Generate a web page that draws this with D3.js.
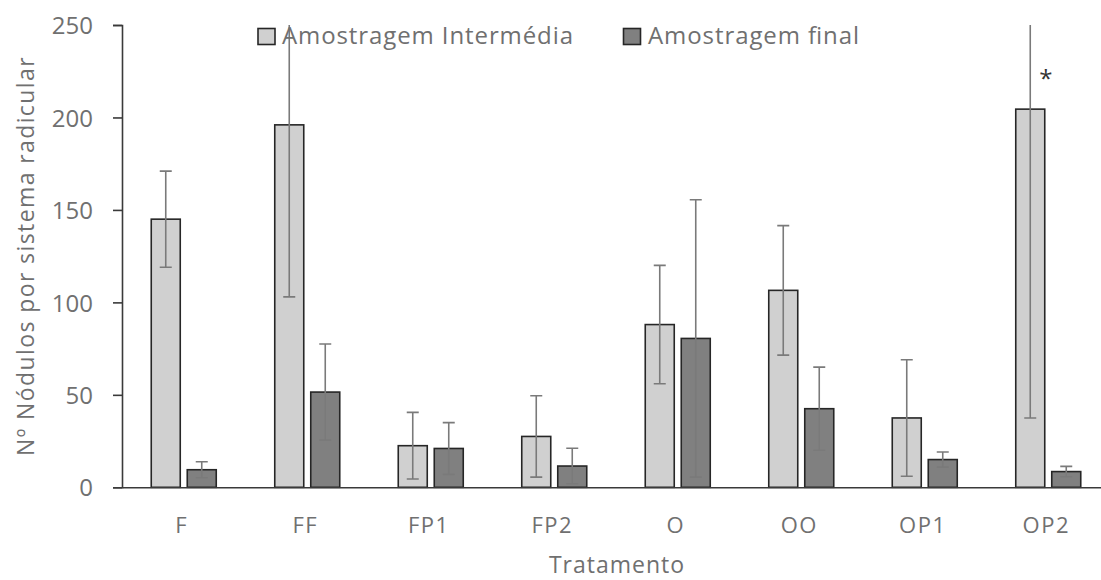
<!DOCTYPE html>
<html><head><meta charset="utf-8">
<script src="https://cdn.jsdelivr.net/npm/d3@7"></script>
<style>
body{margin:0;background:#fff;}
text{font-family:"Open Sans",sans-serif;}
</style></head>
<body>
<svg id="chart" width="1101" height="580"></svg>
<script>
const categories = ["F","FF","FP1","FP2","O","OO","OP1","OP2"];
const seriesNames = ["Amostragem Intermédia","Amostragem final"];
const intermedia = [145, 196, 22.5, 27.5, 88, 106.5, 37.5, 204.5];
const intermediaErr = [26, 93, 18, 22, 32, 35, 31.5, 167];
const finalVals = [9.5, 51.5, 21, 11.5, 80.5, 42.5, 15, 8.5];
const finalErr = [4.3, 26, 14, 9.6, 75, 22.5, 4.1, 2.8];
const yTicks = [0, 50, 100, 150, 200, 250];
const markers = [{cat:"OP2", series:0, label:"*"}];

(function(){
const colors = ["#d0d0d0", "#808080"];
const svg = d3.select("#chart");
const pLeft = 122, pTop = 25, pBottom = 487.3;

const x = d3.scaleBand().domain(categories).range([pLeft, pLeft + 8*123.5]).padding(0);
const xs = d3.scaleBand().domain([0,1]).range([-32.5, 32.5]).paddingInner(7/36).paddingOuter(0);
const y = d3.scaleLinear().domain([0, 250]).range([pBottom, pTop]);

svg.append("defs").append("clipPath").attr("id","clip")
  .append("rect").attr("x", 0).attr("y", pTop).attr("width", 1101).attr("height", pBottom - pTop + 2);

const data = [];
categories.forEach((c, i) => {
  data.push({cat:c, s:0, v:intermedia[i], e:intermediaErr[i]});
  data.push({cat:c, s:1, v:finalVals[i], e:finalErr[i]});
});

const bx = d => x(d.cat) + x.bandwidth()/2 + xs(d.s);

// bars
svg.append("g").selectAll("rect").data(data).join("rect")
  .attr("x", d => bx(d))
  .attr("y", d => y(d.v))
  .attr("width", xs.bandwidth())
  .attr("height", d => y(0) - y(d.v))
  .attr("fill", d => colors[d.s])
  .attr("stroke", "#262626")
  .attr("stroke-width", 1.6);

// error bars
const eg = svg.append("g").attr("clip-path","url(#clip)")
  .attr("stroke", "#7a7a7a").attr("stroke-width", 1.6);
data.forEach(d => {
  const cx = bx(d) + xs.bandwidth()/2;
  const hi = d.v + d.e, lo = Math.max(0, d.v - d.e);
  eg.append("line").attr("x1", cx).attr("x2", cx).attr("y1", y(lo)).attr("y2", y(Math.min(hi, 250)));
  eg.append("line").attr("x1", cx-6).attr("x2", cx+6).attr("y1", y(lo)).attr("y2", y(lo));
  if (hi <= 250) eg.append("line").attr("x1", cx-6).attr("x2", cx+6).attr("y1", y(hi)).attr("y2", y(hi));
});

// axes
const yAxis = svg.append("g").attr("transform", `translate(${pLeft},0)`)
  .call(d3.axisLeft(y).tickValues(yTicks).tickSize(9).tickPadding(20));
yAxis.select(".domain").attr("stroke", "#3a3a3a").attr("stroke-width", 1.6);
yAxis.selectAll(".tick line").attr("stroke", "#3a3a3a").attr("stroke-width", 1.6);
yAxis.selectAll(".tick text").attr("font-size", 24).attr("fill", "#707070").attr("font-family","Open Sans").attr("dy","0.36em");

const xAxis = svg.append("g").attr("transform", `translate(0,${pBottom})`)
  .call(d3.axisBottom(x).tickSize(0).tickPadding(30));
xAxis.select(".domain").attr("stroke", "#3a3a3a").attr("stroke-width", 1.6);
xAxis.selectAll(".tick text").attr("font-size", 22).attr("fill", "#707070")
  .attr("font-family","Open Sans").attr("letter-spacing", "1.5px").attr("dx","-2");

// titles
svg.append("text").attr("x", 617).attr("y", 573).attr("text-anchor","middle")
  .attr("font-size", 23).attr("fill", "#707070").attr("letter-spacing","1px").text("Tratamento");
svg.append("text").attr("transform", "translate(34,256) rotate(-90)").attr("text-anchor","middle")
  .attr("font-size", 23).attr("fill", "#707070").attr("letter-spacing","1.4px").text("Nº Nódulos por sistema radicular");

// markers
markers.forEach(m => {
  const d = data.find(dd => dd.cat === m.cat && dd.s === m.series);
  svg.append("text").attr("x", bx(d) + xs.bandwidth() + 1).attr("y", y(d.v) - 22)
    .attr("text-anchor","middle").attr("font-size", 24).attr("fill","#333").text(m.label);
});

// legend
const legendPos = [{sx:258, tx:282, w:291}, {sx:623.5, tx:648, w:211}];
seriesNames.forEach((n, i) => {
  const lp = legendPos[i];
  svg.append("rect").attr("x", lp.sx).attr("y", 28.5).attr("width", 17).attr("height", 16)
    .attr("fill", colors[i]).attr("stroke", "#262626").attr("stroke-width", 1.6);
  svg.append("text").attr("x", lp.tx).attr("y", 44).attr("font-size", 24).attr("fill", "#707070")
    .attr("textLength", lp.w).attr("lengthAdjust","spacing").text(n);
});
})();
</script>
</body></html>
